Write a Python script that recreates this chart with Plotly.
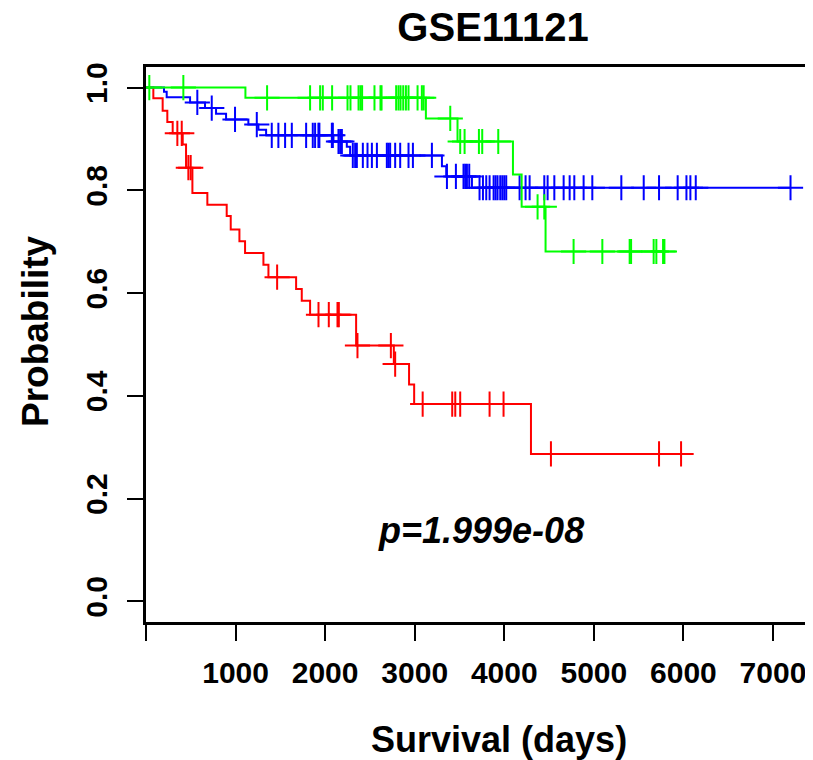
import plotly.graph_objects as go
import numpy as np

# kaplan-meier steps: event day -> survival after the event
red_event_days = [82, 186, 238, 298, 410, 447, 518, 685, 901, 946, 1043, 1106, 1311, 1367,
                  1676, 1739, 1832, 2346, 2767, 2937, 2994, 4298]
red_surv = [0.979, 0.955, 0.933, 0.911, 0.889, 0.844, 0.795, 0.772, 0.750, 0.724, 0.701, 0.678,
            0.655, 0.631, 0.608, 0.585, 0.558, 0.498, 0.462, 0.422, 0.384, 0.287]
red_censored = [350, 399, 473, 499, 1464, 1926, 2041, 2138, 2153, 2361, 2734, 2782, 3089, 3419,
                3453, 3508, 3836, 3992, 4521, 5728, 5974]

green_event_days = [1110, 3125, 3478, 4097, 4194, 4461]
green_surv = [0.980, 0.940, 0.895, 0.831, 0.768, 0.681]
green_censored = [37, 417, 1352, 1832, 1944, 1974, 2078, 2250, 2283, 2373, 2395, 2413, 2551, 2618,
                  2630, 2793, 2819, 2842, 2872, 2902, 2931, 3032, 3080, 3100, 3397, 3508, 3557,
                  3717, 3754, 3933, 4372, 4447, 4774, 5095, 5400, 5416, 5668, 5698, 5773, 5788]

blue_event_days = [201, 231, 492, 659, 782, 894, 1143, 1255, 1341, 2093, 2242, 2279, 3304, 3352, 3639]
blue_surv = [0.992, 0.981, 0.971, 0.960, 0.949, 0.938, 0.928, 0.918, 0.907, 0.895, 0.885, 0.868,
             0.847, 0.827, 0.805]
blue_censored = [573, 734, 994, 1237, 1404, 1478, 1553, 1628, 1788, 1862, 1888, 1925, 1936, 2075,
                 2086, 2149, 2168, 2187, 2309, 2335, 2354, 2421, 2473, 2522, 2578, 2689, 2707, 2726,
                 2782, 2838, 2931, 2980, 3192, 3360, 3460, 3545, 3564, 3583, 3609, 3724, 3762, 3799,
                 3836, 3881, 3903, 3925, 3955, 3978, 4000, 4022, 4171, 4238, 4283, 4447, 4484, 4559,
                 4663, 4730, 4782, 4886, 4983, 5307, 5557, 5728, 5936, 6034, 6078, 6138, 7196]

x_ticks = [0, 1000, 2000, 3000, 4000, 5000, 6000, 7000]
x_tick_labels = ["", "1000", "2000", "3000", "4000", "5000", "6000", "7000"]
y_ticks = [0.0, 0.2, 0.4, 0.6, 0.8, 1.0]
y_tick_labels = ["0.0", "0.2", "0.4", "0.6", "0.8", "1.0"]

groups = [
    (red_event_days, red_surv, red_censored, "#ff0000"),
    (blue_event_days, blue_surv, blue_censored, "#0000ff"),
    (green_event_days, green_surv, green_censored, "#00ff00"),
]

fig = go.Figure()
for days, surv, cens, col in groups:
    # step curve starts at 1 on day 0 and runs to the last follow up
    last = max(max(days), max(cens))
    xs = [0] + days + [last]
    ys = [1.0] + surv + [surv[-1]]
    fig.add_trace(go.Scatter(x=xs, y=ys, mode="lines", line_shape="hv",
                             line=dict(color=col, width=2), hoverinfo="skip"))
    # censored patients sit on the curve at their day
    idx = np.searchsorted(np.array(days), np.array(cens), side="right")
    cens_y = np.concatenate([[1.0], surv])[idx]
    fig.add_trace(go.Scatter(x=cens, y=cens_y, mode="markers",
                             marker=dict(symbol="cross-thin", size=18,
                                         line=dict(color=col, width=2))))

bold = dict(family="Liberation Sans, Arial", color="black", weight="bold")

# the page body has an 8px margin, so the figure is 8px smaller and everything moved up/left
fig.update_layout(
    width=805, height=752,
    margin=dict(l=138, r=0, t=59, b=138),
    plot_bgcolor="white", paper_bgcolor="white",
    showlegend=False,
    title=dict(text="GSE11121", x=485 / 805, xref="container", xanchor="center",
               y=1 - 19 / 752, yref="container", yanchor="middle",
               font=dict(size=40, **bold)),
)
fig.update_xaxes(range=[0, 7447], tickvals=x_ticks, ticktext=x_tick_labels,
                 showgrid=False, zeroline=False, showline=True, mirror=True,
                 linecolor="black", linewidth=2.5, ticks="outside", ticklen=16,
                 tickwidth=1.5, tickcolor="black", ticklabelstandoff=6,
                 tickfont=dict(size=30, **bold))
fig.update_yaxes(range=[-0.04, 1.04], tickvals=y_ticks, ticktext=y_tick_labels,
                 showgrid=False, zeroline=False, showline=True,
                 linecolor="black", linewidth=2.5, ticks="outside", ticklen=16,
                 tickwidth=1.5, tickcolor="black", tickangle=-90, ticklabelstandoff=8,
                 tickfont=dict(size=30, **bold))

# axis titles as annotations so they sit where the R plot put them
fig.add_annotation(text="Survival (days)", xref="paper", yref="paper",
                   x=(499 - 146) / 667, y=(622 - 739) / 555, showarrow=False,
                   xanchor="center", yanchor="middle", font=dict(size=36, **bold))
fig.add_annotation(text="Probability", xref="paper", yref="paper",
                   x=(35 - 146) / 667, y=(622 - 331) / 555, showarrow=False, textangle=-90,
                   xanchor="center", yanchor="middle", font=dict(size=37, **bold))
fig.add_annotation(text="p=1.999e-08", x=3740, y=0.139, showarrow=False,
                   xanchor="center", yanchor="middle",
                   font=dict(size=36, style="italic", **bold))

fig.write_html("out.html")
